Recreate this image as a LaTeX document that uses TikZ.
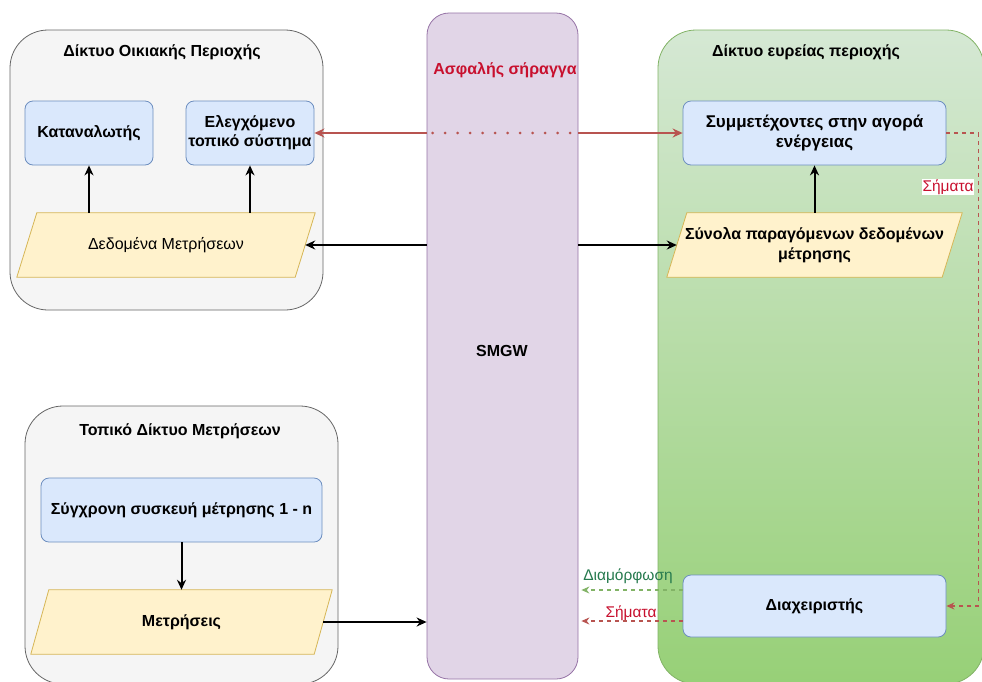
\documentclass[tikz,border=0pt]{standalone}
\usepackage{fontspec}
\setmainfont{Liberation Sans}
\usetikzlibrary{arrows.meta,calc}
\definecolor{bluefill}{HTML}{DAE8FC}
\definecolor{bluedraw}{HTML}{6C8EBF}
\definecolor{yelfill}{HTML}{FFF2CC}
\definecolor{yeldraw}{HTML}{D6B656}
\definecolor{greyfill}{HTML}{F5F5F5}
\definecolor{greydraw}{HTML}{666666}
\definecolor{purfill}{HTML}{E1D5E7}
\definecolor{purdraw}{HTML}{9673A6}
\definecolor{grntop}{HTML}{D5E8D4}
\definecolor{grnbot}{HTML}{97D077}
\definecolor{grndraw}{HTML}{82B366}
\definecolor{redline}{HTML}{B85450}
\definecolor{redtext}{HTML}{C8102E}
\definecolor{grntext}{HTML}{267A4E}
\pgfdeclarelayer{back}
\pgfdeclarelayer{mid}
\pgfsetlayers{back,mid,main}
\tikzset{
  container/.style={draw=greydraw, fill=greyfill, line width=0.8pt, rounded corners=38pt, inner sep=0pt},
  procbox/.style={draw=bluedraw, fill=bluefill, line width=0.8pt, rounded corners=8pt, inner sep=2pt,
    align=center, font=\bfseries\fontsize{16}{19}\selectfont},
  databox/.style={inner sep=0pt, align=center},
  title/.style={font=\bfseries\fontsize{16}{19}\selectfont},
  smalllbl/.style={font=\fontsize{15.5}{18}\selectfont},
  arr/.style={line width=2pt, -{Stealth[length=10pt,width=9pt]}},
  redarr/.style={draw=redline, line width=1.8pt},
  dasharr/.style={line width=1.1pt, dash pattern=on 4pt off 4pt, -{Stealth[length=8pt,width=7pt]}},
}
% slanted data shape drawn around a named node
\newcommand{\slantbox}[2]{%
  \begin{pgfonlayer}{mid}
  \draw[draw=yeldraw, fill=yelfill, line width=0.8pt]
    ($(#1.north west)+(#2,0)$) -- ($(#1.north east)+(#2,0)$) --
    ($(#1.south east)+(-#2,0)$) -- ($(#1.south west)+(-#2,0)$) -- cycle;
  \end{pgfonlayer}}
\begin{document}
\begin{tikzpicture}[x=1pt,y=-1pt]
\useasboundingbox (0,0) rectangle (982,681);

% containers
\begin{pgfonlayer}{back}
\clip (0,0) rectangle (982,681);
\fill[white] (0,0) rectangle (982,681);
\node[container, minimum width=313pt, minimum height=280pt] (home) at (166.5,170) {};
\node[container, minimum width=313pt, minimum height=278pt] (lmn) at (181.5,545) {};
\node[draw=purdraw, fill=purfill, line width=0.8pt, rounded corners=22pt,
      minimum width=151pt, minimum height=666pt, inner sep=0pt] (smgw) at (502.5,346) {};
\node[draw=grndraw, top color=grntop, bottom color=grnbot, line width=0.8pt, rounded corners=38pt,
      minimum width=326pt, minimum height=654pt, inner sep=0pt] (wan) at (821,357) {};
\end{pgfonlayer}

% titles
\node[title] (thome) at (162,52) {Δίκτυο Οικιακής Περιοχής};
\node[title] (tlmn) at (180,431) {Τοπικό Δίκτυο Μετρήσεων};
\node[title] (twan) at (806,52) {Δίκτυο ευρείας περιοχής};
\node[title, text=redtext] (tunnel) at (505,70) {Ασφαλής σήραγγα};
\node[font=\bfseries\fontsize{16}{19}\selectfont] (smgwlbl) at (502,351) {SMGW};

% home area network
\node[procbox, minimum width=128pt, minimum height=64pt] (cons) at (89,133) {Καταναλωτής};
\node[procbox, minimum width=128pt, minimum height=64pt] (ctrl) at (250,133) {Ελεγχόμενο\\τοπικό σύστημα};
\node[databox, minimum width=278pt, minimum height=64pt, font=\fontsize{16}{19}\selectfont] (mdata) at (166,245) {Δεδομένα Μετρήσεων};
\slantbox{mdata}{10}

% local metrological network
\node[procbox, minimum width=281pt, minimum height=64pt] (meter) at (181.5,510) {Σύγχρονη συσκευή μέτρησης 1 - n};
\node[databox, minimum width=283pt, minimum height=64pt, font=\bfseries\fontsize{16}{19}\selectfont] (meas) at (181.5,622) {Μετρήσεις};
\slantbox{meas}{9}

% wide area network
\node[procbox, minimum width=263pt, minimum height=64pt, font=\bfseries\fontsize{17}{20}\selectfont] (market) at (814.5,133) {Συμμετέχοντες στην αγορά\\ενέργειας};
\node[databox, minimum width=275pt, minimum height=64pt, font=\bfseries\fontsize{16}{20}\selectfont] (sets) at (814.5,245) {Σύνολα παραγόμενων δεδομένων\\μέτρησης};
\slantbox{sets}{10}
\node[procbox, minimum width=263pt, minimum height=62pt] (oper) at (814.5,606) {Διαχειριστής};

% data flows
\draw[arr] (cons.south |- mdata.north) -- (cons.south);
\draw[arr] (ctrl.south |- mdata.north) -- (ctrl.south);
\draw[arr] (smgw.west |- mdata.east) -- (mdata.east);
\draw[arr] (smgw.east |- sets.west) -- (sets.west);
\draw[arr] (sets.north) -- (market.south);
\draw[arr] (meter.south) -- (meas.north);
\draw[arr] (meas.east) -- (meas.east -| smgw.west);

% secure tunnel
\draw[redarr, {Stealth[length=10pt,width=9pt]}-] (ctrl.east) -- (ctrl.east -| smgw.west);
\draw[draw=redline, line width=2.8pt, line cap=round, dash pattern=on 0pt off 12.5pt]
  ([xshift=6pt]ctrl.east -| smgw.west) -- ([xshift=-4pt]ctrl.east -| smgw.east);
\draw[redarr, -{Stealth[length=10pt,width=9pt]}] (ctrl.east -| smgw.east) -- (market.west);

% operator signals
\coordinate (sigturn) at ($(market.east)+(32,0)$);
\draw[dasharr, draw=redline] (market.east) -- (sigturn) |- (oper.east);
\node[fill=white, text=redtext, inner sep=1pt, smalllbl] (sigr) at (948,187) {Σήματα};
\draw[dasharr, draw=grndraw] ([yshift=16pt]oper.west) -- ([yshift=16pt,xshift=3pt]oper.west -| smgw.east);
\draw[dasharr, draw=redline] ([yshift=-15pt]oper.west) -- ([yshift=-15pt,xshift=3pt]oper.west -| smgw.east);
\node[text=grntext, smalllbl] (cfg) at (628,576) {Διαμόρφωση};
\node[text=redtext, smalllbl] (sigl) at (631,613) {Σήματα};
\end{tikzpicture}
\end{document}
